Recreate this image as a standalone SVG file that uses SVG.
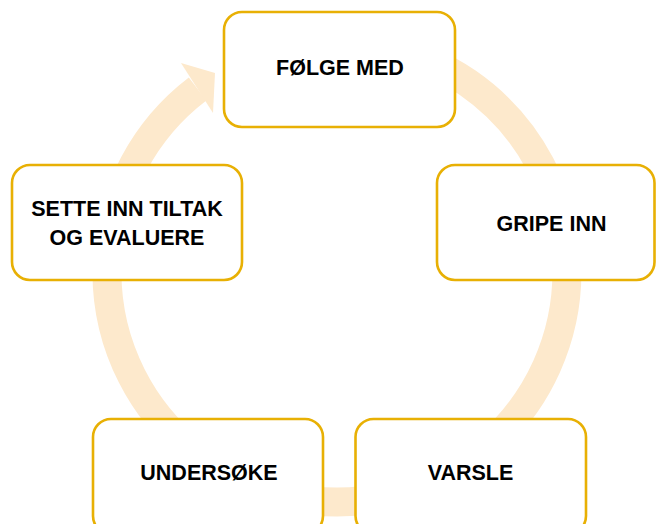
<svg xmlns="http://www.w3.org/2000/svg" width="656" height="524" viewBox="0 0 656 524">
  <defs>
    <style>
      .ring { fill: none; stroke: #FDE9CC; stroke-width: 29; }
      .head { fill: #FDE9CC; stroke: none; }
      .box { fill: #FFFFFF; stroke: #E8B004; stroke-width: 2.6; }
      .lbl { font-family: "Liberation Sans", Arial, sans-serif; font-weight: bold; font-size: 21.5px; fill: #000000; text-anchor: middle; }
    </style>
  </defs>
  <rect x="0" y="0" width="656" height="524" fill="#FFFFFF"/>
  <g id="connectors">
    <path class="ring" d="M 376.94 45.49 A 230 230 0 1 1 197.6 89.0"/>
    <polygon class="head" points="181,63 215,73 213,113"/>
  </g>
  <g id="node-folge-med">
    <rect class="box" x="224" y="12" width="231" height="115" rx="18" ry="18"/>
    <text class="lbl" x="340" y="75">FØLGE MED</text>
  </g>
  <g id="node-gripe-inn">
    <rect class="box" x="437" y="165" width="217.5" height="115" rx="18" ry="18"/>
    <text class="lbl" x="551.5" y="231">GRIPE INN</text>
  </g>
  <g id="node-varsle">
    <rect class="box" x="355.5" y="419" width="230.5" height="115" rx="18" ry="18"/>
    <text class="lbl" x="470.5" y="480">VARSLE</text>
  </g>
  <g id="node-undersoke">
    <rect class="box" x="93" y="419" width="230" height="115" rx="18" ry="18"/>
    <text class="lbl" x="209" y="480">UNDERSØKE</text>
  </g>
  <g id="node-sette-inn">
    <rect class="box" x="12" y="165" width="230" height="115" rx="18" ry="18"/>
    <text class="lbl" x="127" y="216">SETTE INN TILTAK</text>
    <text class="lbl" x="127" y="244.5">OG EVALUERE</text>
  </g>
</svg>
